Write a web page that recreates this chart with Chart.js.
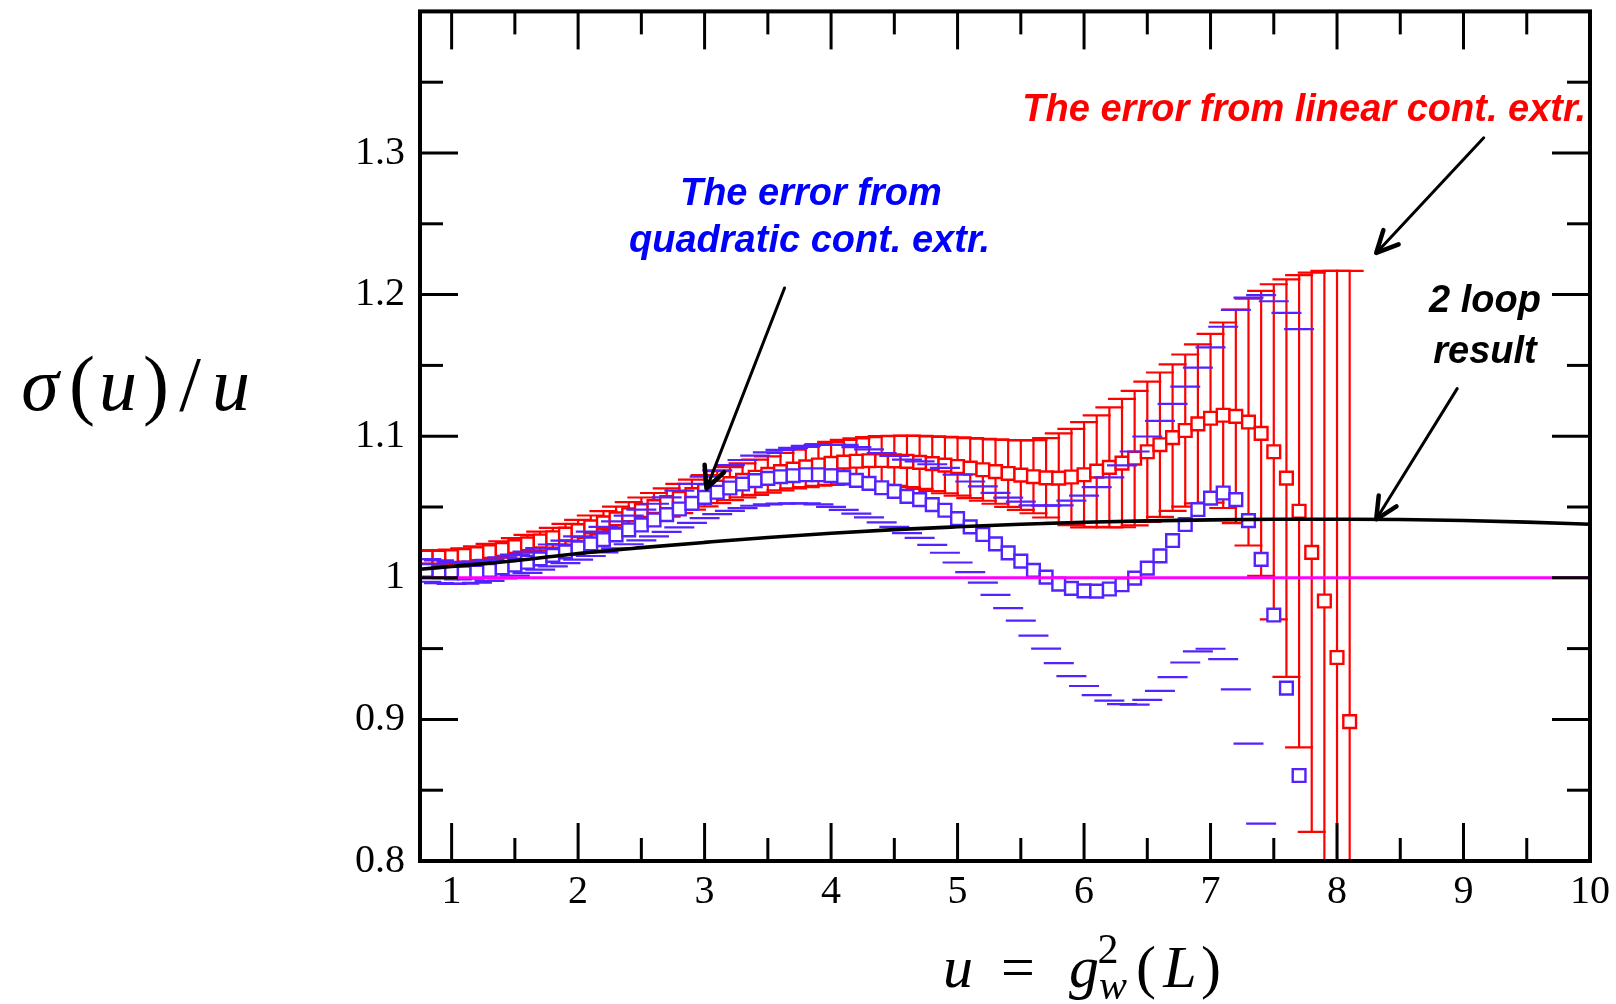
<!DOCTYPE html>
<html><head><meta charset="utf-8">
<script src="https://cdn.jsdelivr.net/npm/chart.js@4.4.1/dist/chart.umd.min.js"></script>
<style>html,body{margin:0;padding:0;background:#fff;}#wrap{width:1616px;height:1004px;}</style>
</head><body><div id="wrap"><canvas id="c" width="1616" height="1004"></canvas></div>
<script>
// ---------------- data ----------------
const uLinear = [0.8,0.9,1.0,1.1,1.2,1.3,1.4,1.5,1.6,1.7,1.8,1.9,2.0,2.1,2.2,2.3,2.4,2.5,2.6,2.7,2.8,2.9,3.0,3.1,3.2,3.3,3.4,3.5,3.6,3.7,3.8,3.9,4.0,4.1,4.2,4.3,4.4,4.5,4.6,4.7,4.8,4.9,5.0,5.1,5.2,5.3,5.4,5.5,5.6,5.7,5.8,5.9,6.0,6.1,6.2,6.3,6.4,6.5,6.6,6.7,6.8,6.9,7.0,7.1,7.2,7.3,7.4,7.5,7.6,7.7,7.8,7.9,8.0,8.1];
const sigmaLinear = [1.0145,1.0145,1.015,1.0158,1.017,1.0185,1.020,1.022,1.024,1.026,1.0283,1.0308,1.0333,1.036,1.0388,1.0416,1.0445,1.0474,1.0503,1.0532,1.056,1.0588,1.0615,1.064,1.0665,1.0688,1.071,1.073,1.075,1.0768,1.0783,1.0797,1.0808,1.0817,1.0823,1.0827,1.0828,1.0826,1.0822,1.0815,1.0806,1.0796,1.0786,1.0775,1.0763,1.075,1.0737,1.0725,1.0714,1.0706,1.0704,1.0712,1.0728,1.0753,1.078,1.081,1.0845,1.089,1.094,1.099,1.104,1.1087,1.1127,1.1148,1.114,1.110,1.102,1.089,1.0704,1.047,1.018,0.9836,0.9437,0.8984];
const errLinear = [0.005,0.005,0.005,0.005,0.0052,0.0055,0.0058,0.006,0.0063,0.0066,0.007,0.0073,0.0076,0.008,0.0083,0.0086,0.009,0.0093,0.0096,0.010,0.0103,0.0106,0.011,0.0113,0.0117,0.012,0.0124,0.0128,0.0132,0.0137,0.0142,0.0147,0.0152,0.0157,0.0162,0.0167,0.0172,0.0177,0.0182,0.0187,0.0193,0.0199,0.0205,0.0212,0.0219,0.0227,0.0236,0.0246,0.0258,0.028,0.0316,0.034,0.0372,0.0394,0.0424,0.0453,0.0475,0.0495,0.051,0.0517,0.0537,0.0561,0.0596,0.0655,0.0754,0.0872,0.1006,0.1183,0.1404,0.1667,0.1975,0.2331,0.273,0.3183];

const uQuadratic = [0.8,0.9,1.0,1.1,1.2,1.3,1.4,1.5,1.6,1.7,1.8,1.9,2.0,2.1,2.2,2.3,2.4,2.5,2.6,2.7,2.8,2.9,3.0,3.1,3.2,3.3,3.4,3.5,3.6,3.7,3.8,3.9,4.0,4.1,4.2,4.3,4.4,4.5,4.6,4.7,4.8,4.9,5.0,5.1,5.2,5.3,5.4,5.5,5.6,5.7,5.8,5.9,6.0,6.1,6.2,6.3,6.4,6.5,6.6,6.7,6.8,6.9,7.0,7.1,7.2,7.3,7.4,7.5,7.6,7.7];
const sigmaQuadratic = [1.0052,1.0043,1.0035,1.0035,1.004,1.0052,1.007,1.009,1.011,1.0134,1.0158,1.0183,1.0211,1.024,1.027,1.0303,1.0338,1.0373,1.0408,1.0446,1.0486,1.0526,1.0568,1.0604,1.0634,1.0662,1.0686,1.0702,1.0714,1.0721,1.0728,1.0728,1.0721,1.0709,1.0688,1.0667,1.0636,1.061,1.0575,1.0552,1.0517,1.0477,1.0418,1.036,1.0306,1.024,1.0176,1.0118,1.0052,1.0005,0.9955,0.9925,0.9908,0.9906,0.9921,0.9951,0.9998,1.0068,1.0155,1.0263,1.0376,1.0482,1.0563,1.0599,1.0552,1.0404,1.013,0.9737,0.9221,0.8604];
const errQuadratic = [0.008,0.008,0.0078,0.0076,0.0075,0.0074,0.0074,0.0074,0.0075,0.0076,0.0077,0.0079,0.0082,0.0086,0.009,0.0095,0.0101,0.0108,0.0115,0.0122,0.013,0.0138,0.0146,0.0154,0.0162,0.017,0.0177,0.0184,0.019,0.0196,0.0203,0.021,0.022,0.023,0.0235,0.024,0.0245,0.025,0.026,0.027,0.0285,0.030,0.031,0.032,0.034,0.036,0.039,0.042,0.046,0.0505,0.0557,0.062,0.0672,0.0735,0.0788,0.0843,0.0894,0.093,0.0953,0.0965,0.0974,0.1002,0.1064,0.1174,0.134,0.1575,0.1866,0.2216,0.265,0.3152];

const uTwoLoop = [0.75,1,1.5,2,2.5,3,3.5,4,4.5,5,5.5,6,6.5,7,7.5,8,8.5,9,9.5,10];
const sigmaTwoLoop = [1.006,1.008,1.012,1.0172,1.0213,1.025,1.0285,1.0315,1.034,1.036,1.0378,1.0392,1.0402,1.0409,1.0413,1.0414,1.0412,1.0405,1.0393,1.0378];

const uUnity = [0.75,10];
const sigmaUnity = [1,1];

const xTickValues = [1,2,3,4,5,6,7,8,9,10];
const xTickText = ['1','2','3','4','5','6','7','8','9','10'];
const xMinorTicks = [1.5,2.5,3.5,4.5,5.5,6.5,7.5,8.5,9.5];
const yTickValues = [0.8,0.9,1,1.1,1.2,1.3];
const yTickText = ['0.8','0.9','1','1.1','1.2','1.3'];
const yMajorTicks = [0.8,0.9,1,1.1,1.2,1.3,1.4];
const yMinorTicks = [0.85,0.95,1.05,1.15,1.25,1.35];

// annotations (data coordinates)
const noteTexts = ['The error from','quadratic cont. extr.','The error from linear cont. extr.','2 loop','result'];
const noteU = [3.84,3.83,7.741,9.17,9.17];
const noteV = [1.2632,1.230,1.3228,1.1878,1.1514];
const noteColors = ['#0000ff','#0000ff','#ff0000','#000000','#000000'];
const arrowFromU = [3.632,9.16,8.95];
const arrowFromV = [1.2047,1.3107,1.1336];
const arrowToU = [3.015,8.31,8.31];
const arrowToV = [1.063,1.2294,1.0413];

// ---------------- helpers ----------------
const pts = (xs, ys) => xs.map((x, i) => ({x: x, y: ys[i]}));
const RED = '#ff0000', BLUE = '#5322ff';

const errorBars = {
  id: 'errorBars',
  beforeDatasetDraw(chart, args) {
    const ds = chart.data.datasets[args.index];
    if (!ds.errors) return;
    const {ctx, chartArea: a, scales} = chart;
    const x = scales.x, y = scales.y;
    ctx.save();
    ctx.beginPath(); ctx.rect(a.left, a.top, a.right - a.left, a.bottom - a.top); ctx.clip();
    ctx.strokeStyle = ds.borderColor; ctx.lineWidth = 2.2; ctx.lineCap = 'butt';
    const hw = ds.capHalf;
    ds.data.forEach((p, i) => {
      const e = ds.errors[i];
      const px = x.getPixelForValue(p.x);
      const yt = y.getPixelForValue(p.y + e), yb = y.getPixelForValue(p.y - e);
      ctx.beginPath();
      if (ds.errorStems) { ctx.moveTo(px, yt); ctx.lineTo(px, yb); }
      ctx.moveTo(px - hw, yt); ctx.lineTo(px + hw, yt);
      ctx.moveTo(px - hw, yb); ctx.lineTo(px + hw, yb);
      ctx.stroke();
    });
    ctx.restore();
  }
};

const frame = {
  id: 'frame',
  afterDatasetsDraw(chart) {
    const {ctx, chartArea: a, scales} = chart;
    const x = scales.x, y = scales.y;
    ctx.save();
    ctx.strokeStyle = '#000'; ctx.lineWidth = 3; ctx.lineCap = 'butt';
    const seg = (x1, y1, x2, y2) => { ctx.beginPath(); ctx.moveTo(x1, y1); ctx.lineTo(x2, y2); ctx.stroke(); };
    const MAJ = 38, MIN = 23;
    xTickValues.forEach(v => { const p = x.getPixelForValue(v); seg(p, a.bottom, p, a.bottom - MAJ); seg(p, a.top, p, a.top + MAJ); });
    xMinorTicks.forEach(v => { const p = x.getPixelForValue(v); seg(p, a.bottom, p, a.bottom - MIN); seg(p, a.top, p, a.top + MIN); });
    yMajorTicks.forEach(v => { const p = y.getPixelForValue(v); seg(a.left, p, a.left + MAJ, p); seg(a.right, p, a.right - MAJ, p); });
    yMinorTicks.forEach(v => { const p = y.getPixelForValue(v); seg(a.left, p, a.left + MIN, p); seg(a.right, p, a.right - MIN, p); });
    ctx.lineWidth = 4;
    ctx.strokeRect(a.left, a.top, a.right - a.left, a.bottom - a.top);
    ctx.restore();
  }
};

const notes = {
  id: 'notes',
  afterDraw(chart) {
    const {ctx, scales} = chart;
    const x = scales.x, y = scales.y;
    ctx.save();
    ctx.font = 'bold italic 38px "Liberation Sans", Arial, sans-serif';
    ctx.textAlign = 'center'; ctx.textBaseline = 'alphabetic';
    noteTexts.forEach((t, i) => {
      ctx.fillStyle = noteColors[i];
      ctx.fillText(t, x.getPixelForValue(noteU[i]), y.getPixelForValue(noteV[i]));
    });
    ctx.strokeStyle = '#000'; ctx.lineCap = 'round'; ctx.lineJoin = 'round';
    arrowFromU.forEach((u, i) => {
      const x1 = x.getPixelForValue(u), y1 = y.getPixelForValue(arrowFromV[i]);
      const x2 = x.getPixelForValue(arrowToU[i]), y2 = y.getPixelForValue(arrowToV[i]);
      ctx.lineWidth = 3;
      ctx.beginPath(); ctx.moveTo(x1, y1); ctx.lineTo(x2, y2); ctx.stroke();
      const ang = Math.atan2(y2 - y1, x2 - x1), L = 24, s = 0.45;
      ctx.lineWidth = 4.5;
      ctx.beginPath();
      ctx.moveTo(x2 - L * Math.cos(ang - s), y2 - L * Math.sin(ang - s));
      ctx.lineTo(x2, y2);
      ctx.lineTo(x2 - L * Math.cos(ang + s), y2 - L * Math.sin(ang + s));
      ctx.stroke();
    });
    // axis titles
    ctx.fillStyle = '#000';
    ctx.textBaseline = 'alphabetic'; ctx.textAlign = 'center';
    const it = 'italic 76px "Liberation Serif", serif', rm = '78px "Liberation Serif", serif';
    const yt = [['\u03c3', it, 40], ['(', rm, 82], ['u', it, 118], [')', rm, 156], ['/', rm, 190], ['u', it, 231]];
    yt.forEach(g => { ctx.font = g[1]; ctx.fillText(g[0], g[2], 410); });
    const it2 = 'italic 60px "Liberation Serif", serif', rm2 = '60px "Liberation Serif", serif';
    const xt = [['u', it2, 958, 987], ['=', rm2, 1018, 987], ['g', it2, 1084, 987], ['2', '42px "Liberation Serif", serif', 1108, 963],
                ['w', 'italic 42px "Liberation Serif", serif', 1113, 999], ['(', rm2, 1146, 987], ['L', it2, 1180, 987], [')', rm2, 1211, 987]];
    xt.forEach(g => { ctx.font = g[1]; ctx.fillText(g[0], g[2], g[3]); });
    ctx.restore();
  }
};

const tickFont = {family: '"Liberation Serif", serif', size: 40};

new Chart(document.getElementById('c'), {
  type: 'scatter',
  data: {
    datasets: [
      {label: 'linear', data: pts(uLinear, sigmaLinear), errors: errLinear, errorStems: true, capHalf: 14,
       borderColor: RED, backgroundColor: '#fff', pointStyle: 'rect', pointRadius: 9, pointBorderWidth: 2.4, order: 4},
      {label: 'quadratic', data: pts(uQuadratic, sigmaQuadratic), errors: errQuadratic, errorStems: false, capHalf: 15,
       borderColor: BLUE, backgroundColor: '#fff', pointStyle: 'rect', pointRadius: 9, pointBorderWidth: 2.4, order: 3},
      {label: '2 loop', data: pts(uTwoLoop, sigmaTwoLoop), showLine: true, pointRadius: 0, borderColor: '#000',
       borderWidth: 3.6, cubicInterpolationMode: 'monotone', order: 2},
      {label: 'unity', data: pts(uUnity, sigmaUnity), showLine: true, pointRadius: 0, borderColor: '#ff00ff',
       borderWidth: 3, order: 1}
    ]
  },
  options: {
    responsive: false, animation: false, devicePixelRatio: 1,
    layout: {padding: {left: 0, right: 26, top: 9, bottom: 0}},
    plugins: {legend: {display: false}, tooltip: {enabled: false}},
    scales: {
      x: {type: 'linear', min: 0.75, max: 10, position: 'bottom',
          grid: {display: false, drawTicks: false}, border: {display: false},
          afterBuildTicks: s => { s.ticks = xTickValues.map(v => ({value: v})); },
          afterFit: s => { s.height = 143; s.paddingLeft = 0; s.paddingRight = 0; },
          ticks: {padding: 7, font: tickFont, color: '#000', maxRotation: 0, autoSkip: false,
                  callback: (v, i) => xTickText[i]}},
      y: {type: 'linear', min: 0.8, max: 1.4, position: 'left',
          grid: {display: false, drawTicks: false}, border: {display: false},
          afterBuildTicks: s => { s.ticks = yTickValues.map(v => ({value: v})); },
          afterFit: s => { s.width = 420; s.paddingTop = 0; s.paddingBottom = 0; },
          ticks: {padding: 15, font: tickFont, color: '#000', autoSkip: false,
                  callback: (v, i) => yTickText[i]}}
    }
  },
  plugins: [errorBars, frame, notes]
});
</script></body></html>
